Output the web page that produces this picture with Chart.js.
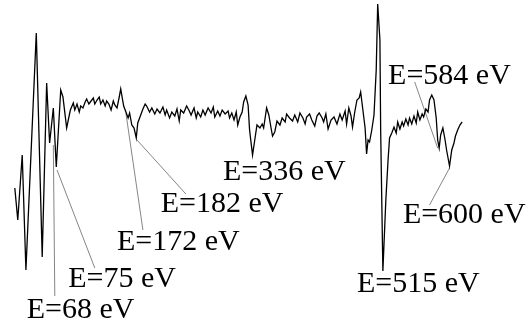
<!DOCTYPE html>
<html>
<head>
<meta charset="utf-8">
<script src="https://cdn.jsdelivr.net/npm/chart.js@4/dist/chart.umd.min.js"></script>
<style>
  html, body { margin: 0; padding: 0; background: #fff; }
  canvas { display: block; }
</style>
</head>
<body>
<canvas id="spectrum" width="531" height="328"></canvas>
<script>
// kinetic energy (eV) of each sample
const energies = [
  18, 22, 28, 33, 47, 55, 61, 65, 70, 74, 80, 83, 88, 93, 97, 99, 102, 105, 107, 110,
  113, 115, 118, 121, 124, 126, 129, 132, 134, 137, 140, 142, 145, 148, 151, 153, 156, 159, 161, 165,
  168, 171, 173, 176, 179, 182, 184, 188, 191, 194, 196, 200, 203, 207, 210, 214, 218, 221, 223, 227,
  230, 234, 237, 240, 242, 246, 250, 253, 256, 260, 263, 265, 269, 272, 275, 279, 283, 286, 288, 292,
  295, 298, 302, 306, 308, 311, 314, 317, 319, 322, 325, 327, 330, 333, 335, 339, 342, 345, 349, 352,
  354, 358, 361, 364, 366, 369, 372, 376, 379, 383, 385, 389, 393, 396, 400, 403, 407, 410, 412, 416,
  419, 423, 426, 429, 433, 435, 438, 441, 445, 449, 453, 457, 460, 464, 466, 469, 472, 474, 477, 480,
  483, 485, 488, 491, 493, 495, 497, 500, 503, 506, 508, 511, 512, 515, 519, 522, 524, 527, 530, 533,
  535, 538, 541, 543, 546, 549, 551, 554, 557, 560, 562, 565, 568, 570, 573, 576, 578, 581, 584, 587,
  589, 591, 593, 596, 599, 601, 605, 608, 611, 613, 616, 619, 622
];

// dN/dE signal, arbitrary units
const signal = [
  -78, -110, -45, -160, 77, -147, 27, -33, 2, -57, 20, 13, -18, 0, 7, 0, 6, -2, 4, 2,
  8, 11, 6, 9, 12, 6, 10, 13, 6, 10, 4, 9, 6, 0, 9, 5, 2, 13, 21, 4,
  -2, -8, -3, -15, -18, -28, -13, -5, 1, 6, 4, -2, 2, -4, 1, -3, 3, -5, 0, -8,
  -2, -6, 1, -11, 0, -3, 4, 0, -5, 2, -8, -2, -7, 0, -5, 2, -3, 3, -7, -1,
  -6, 0, -4, -1, -8, -3, -10, -2, -15, -7, -2, 8, 14, 5, -20, -45, -30, -15, -18, -14,
  -18, 2, -5, -18, -26, -22, -11, -15, -8, -12, -4, -8, -11, -5, -12, -3, -8, -14, -7, -4,
  -10, -16, -6, -3, -8, -12, -4, -19, -10, -7, -14, -4, -10, -1, -14, 2, -6, -17, -2, 10,
  12, 18, 0, -18, -44, -30, -32, -20, -5, 40, 106, 70, -20, -161, -90, -50, -28, -23, -17, -23,
  -12, -19, -12, -16, -9, -15, -8, -14, -6, -13, -2, -10, -4, -7, 1, -2, 10, 15, 10, -8,
  -30, -38, -25, -18, -30, -40, -56, -40, -33, -26, -20, -15, -12
];

// marked peaks (eV)
const peaks = [68, 75, 172, 182, 336, 515, 584, 600];

// label anchor (left, baseline) and leader line [from, to] in data units
const marks = {
  68:  { at: [34, -208], leader: [[70, -35], [72, -186]] },
  75:  { at: [90, -177], leader: [[75, -60], [126, -158]] },
  172: { at: [156, -140], leader: [[168, -3], [191, -120]] },
  182: { at: [215, -102], leader: [[183, -30], [249, -84]] },
  336: { at: [299, -70] },
  515: { at: [480, -182] },
  584: { at: [522, 26], leader: [[558, 28], [589, -38]] },
  600: { at: [542, -113], leader: [[605, -58], [578, -95]] }
};

const datasets = [{
  data: energies.map((e, i) => ({ x: e, y: signal[i] })),
  borderColor: '#000',
  borderWidth: 1.3,
  pointRadius: 0,
  tension: 0,
  clip: false
}];

peaks.forEach(p => {
  const m = marks[p];
  if (!m.leader) return;
  datasets.push({
    data: m.leader.map(pt => ({ x: pt[0], y: pt[1] })),
    borderColor: '#666',
    borderWidth: 0.8,
    pointRadius: 0,
    clip: false
  });
});

const peakLabels = {
  id: 'peakLabels',
  afterDatasetsDraw(chart) {
    const ctx = chart.ctx;
    const sx = chart.scales.x, sy = chart.scales.y;
    ctx.save();
    ctx.font = '30px "Liberation Serif"';
    ctx.fillStyle = '#000';
    ctx.textAlign = 'left';
    ctx.textBaseline = 'alphabetic';
    peaks.forEach(p => {
      const m = marks[p];
      ctx.fillText('E=' + p + ' eV', sx.getPixelForValue(m.at[0]), sy.getPixelForValue(m.at[1]));
    });
    ctx.restore();
  }
};

new Chart(document.getElementById('spectrum'), {
  type: 'line',
  data: { datasets },
  options: {
    responsive: false,
    animation: false,
    layout: { padding: 0 },
    plugins: { legend: { display: false }, tooltip: { enabled: false } },
    scales: {
      x: { type: 'linear', min: -2, max: 715, display: false },
      y: { min: -218, max: 110, display: false }
    }
  },
  plugins: [peakLabels]
});
</script>
</body>
</html>
